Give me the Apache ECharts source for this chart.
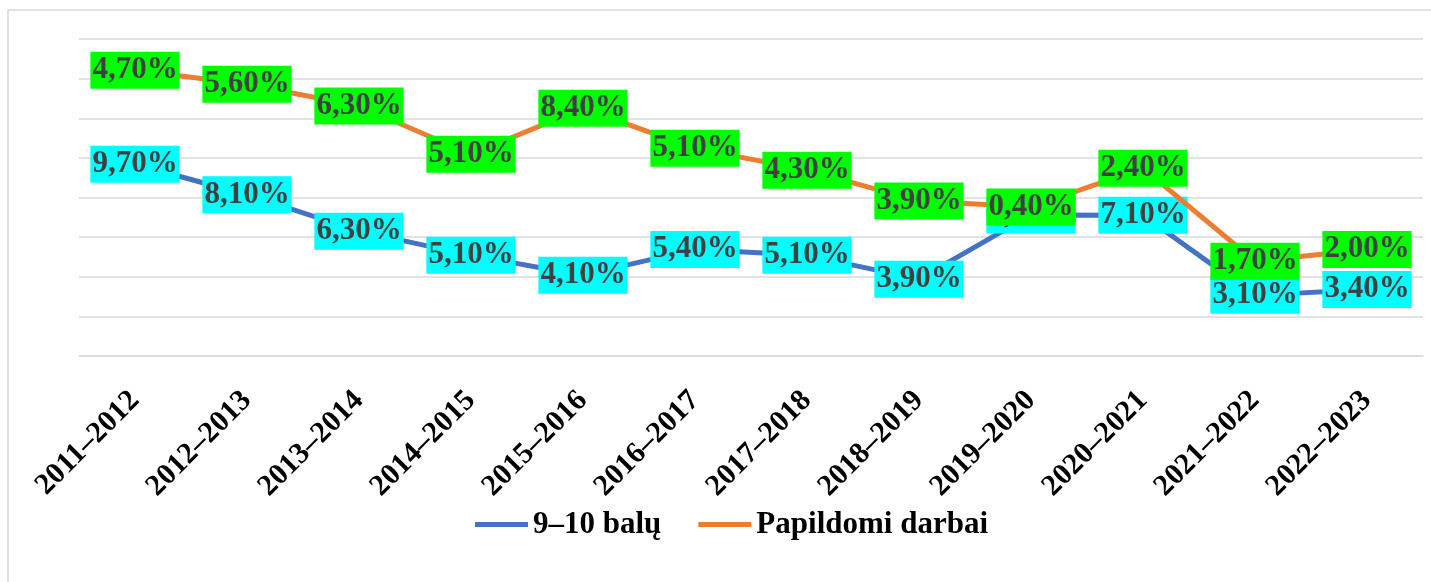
<!DOCTYPE html>
<html>
<head>
<meta charset="utf-8">
<script src="https://cdn.jsdelivr.net/npm/echarts@6/dist/echarts.min.js"></script>
<style>
  html, body { margin: 0; padding: 0; background: #fff; }
  #chart { width: 1431px; height: 582px; }
</style>
</head>
<body>
<div id="chart"></div>
<script>
// kategorijos (mokslo metai)
const years = ['2011–2012', '2012–2013', '2013–2014', '2014–2015', '2015–2016', '2016–2017',
  '2017–2018', '2018–2019', '2019–2020', '2020–2021', '2021–2022', '2022–2023'];

// taškų padėtis (ašis be skaičių, vienetas = viena tinklelio linija)
const balaiValues = [4.84, 4.07, 3.15, 2.54, 2.04, 2.69, 2.54, 1.94, 3.56, 3.55, 1.53, 1.68];
const darbaiValues = [7.21, 6.86, 6.31, 5.09, 6.25, 5.24, 4.69, 3.91, 3.76, 4.74, 2.39, 2.69];

// užrašai ant taškų
const balaiLabels = ['9,70%', '8,10%', '6,30%', '5,10%', '4,10%', '5,40%', '5,10%', '3,90%', '7,20%', '7,10%', '3,10%', '3,40%'];
const darbaiLabels = ['4,70%', '5,60%', '6,30%', '5,10%', '8,40%', '5,10%', '4,30%', '3,90%', '0,40%', '2,40%', '1,70%', '2,00%'];

const serif = 'Liberation Serif, Times New Roman, serif';

function labelStyle(bg, texts) {
  return {
    show: true,
    position: 'inside',
    formatter: p => texts[p.dataIndex],
    backgroundColor: bg,
    color: '#404040',
    fontFamily: serif,
    fontWeight: 'bold',
    fontSize: 31,
    lineHeight: 33,
    padding: [2, 2, 2, 2]
  };
}

const chart = echarts.init(document.getElementById('chart'));
chart.setOption({
  backgroundColor: '#fff',
  animation: false,
  graphic: [{
    type: 'rect',
    shape: { x: 8, y: 10, width: 1440, height: 600 },
    style: { fill: 'none', stroke: '#d9d9d9', lineWidth: 1.5 },
    silent: true
  }],
  grid: { left: 79, right: 8, top: 39, bottom: 226 },
  legend: {
    left: 470,
    top: 504,
    itemWidth: 53,
    itemHeight: 5,
    itemGap: 37,
    icon: 'rect',
    textStyle: { fontFamily: serif, fontWeight: 'bold', fontSize: 31, color: '#000' },
    data: ['9–10 balų', 'Papildomi darbai']
  },
  xAxis: {
    type: 'category',
    data: years,
    boundaryGap: true,
    axisLine: { lineStyle: { color: '#d9d9d9', width: 1.5 } },
    axisTick: { show: false },
    axisLabel: {
      rotate: 45,
      interval: 0,
      margin: 40,
      color: '#000',
      fontFamily: serif,
      fontWeight: 'bold',
      fontSize: 30
    }
  },
  yAxis: {
    type: 'value',
    min: 0,
    max: 8,
    interval: 1,
    axisLabel: { show: false },
    axisLine: { show: false },
    axisTick: { show: false },
    splitLine: { lineStyle: { color: '#d9d9d9', width: 1.5 } }
  },
  series: [
    {
      name: '9–10 balų',
      type: 'line',
      data: balaiValues,
      symbol: 'circle',
      symbolSize: 1,
      lineStyle: { color: '#4472C4', width: 5 },
      itemStyle: { color: '#4472C4' },
      label: labelStyle('#00FFFF', balaiLabels),
      z: 2
    },
    {
      name: 'Papildomi darbai',
      type: 'line',
      data: darbaiValues,
      symbol: 'circle',
      symbolSize: 1,
      lineStyle: { color: '#ED7D31', width: 5 },
      itemStyle: { color: '#ED7D31' },
      label: labelStyle('#00FF00', darbaiLabels),
      z: 3
    }
  ]
});
</script>
</body>
</html>
